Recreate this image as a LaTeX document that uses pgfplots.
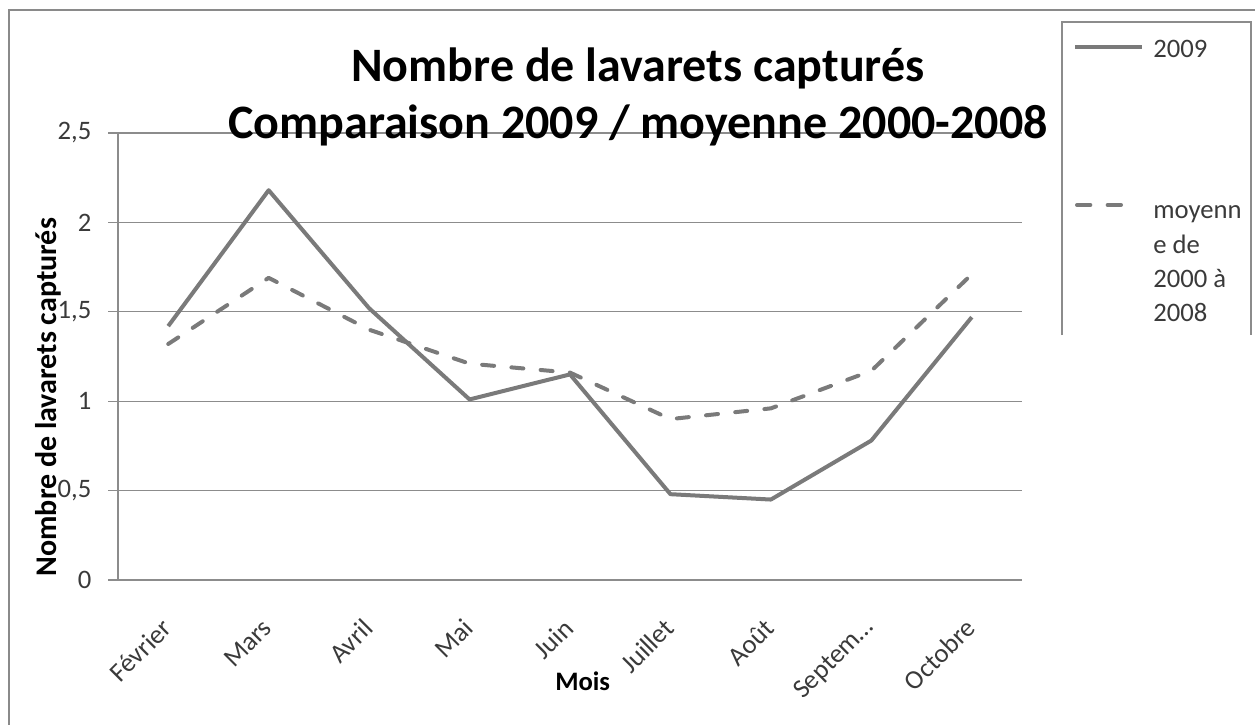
\documentclass[border=0pt]{standalone}
\usepackage{fontspec}
\setmainfont{Carlito}
\usepackage{pgfplots}
\pgfplotsset{compat=1.18}
\definecolor{linegray}{HTML}{7A7A7A}
\definecolor{gridgray}{HTML}{8C8C8C}
\definecolor{framegray}{HTML}{8A8A8A}
\definecolor{txtgray}{HTML}{3A3A3A}
\begin{document}
\begin{tikzpicture}
\useasboundingbox (0,0) rectangle (941.25pt,-543pt);
\draw[framegray, line width=2pt] (9*0.75pt,-730*0.75pt) -- (9*0.75pt,-10*0.75pt) -- (1260*0.75pt,-10*0.75pt);
\begin{axis}[
  at={(88.5pt,-435pt)}, anchor=south west,
  scale only axis, width=678pt, height=335.25pt,
  xmin=-0.5, xmax=8.5, ymin=0, ymax=2.5,
  axis lines=left,
  axis line style={gridgray, line width=1pt, -},
  ytick={0,0.5,1,1.5,2,2.5},
  /pgf/number format/use comma,
  /pgf/number format/assume math mode=true,
  yticklabel style={font=\fontsize{20}{24}\selectfont, text=txtgray, xshift=-9pt},
  tick align=outside, major tick length=7.5pt,
  y tick style={gridgray, line width=1pt},
  xtick={0,1,2,3,4,5,6,7,8},
  xticklabels={Février,Mars,Avril,Mai,Juin,Juillet,Août,Septem…,Octobre},
  x tick style={draw=none},
  xticklabel style={yshift=-22.8pt, xshift=1.5pt, rotate=45, anchor=east, font=\fontsize{20}{24}\selectfont, text=txtgray},
  ymajorgrids, grid style={gridgray, line width=1pt},
  xlabel={Mois},
  xlabel style={at={(axis description cs:0.514,-0.226)}, anchor=center, font=\bfseries\fontsize{20}{24}\selectfont},
  ylabel={Nombre de lavarets capturés},
  ylabel style={at={(axis description cs:-0.0774,0.409)}, anchor=center, font=\bfseries\fontsize{22.5}{26}\selectfont},
  clip=false,
]
\addplot[linegray, line width=3pt, line join=round] coordinates {
  (0,1.42) (1,2.18) (2,1.52) (3,1.01) (4,1.15) (5,0.48) (6,0.45) (7,0.78) (8,1.47)};
\addplot[linegray, line width=3pt, line cap=round, line join=round, dash pattern=on 9pt off 13pt] coordinates {
  (0,1.32) (1,1.69) (2,1.40) (3,1.21) (4,1.16) (5,0.90) (6,0.96) (7,1.17) (8,1.71)};
\end{axis}
\node[font=\bfseries\fontsize{36}{43}\selectfont, align=center] at (638*0.75pt,-97*0.75pt)
  {Nombre de lavarets capturés\\Comparaison 2009 / moyenne 2000-2008};
% legend
\draw[gridgray, line width=0.8pt] (1062*0.75pt,-335*0.75pt) -- (1062*0.75pt,-22*0.75pt) -- (1251*0.75pt,-22*0.75pt) -- (1251*0.75pt,-335*0.75pt);
\draw[linegray, line width=3pt] (1075*0.75pt,-47*0.75pt) -- (1142*0.75pt,-47*0.75pt);
\draw[linegray, line width=3pt, line cap=round, dash pattern=on 10pt off 13pt] (1077*0.75pt,-205*0.75pt) -- (1130*0.75pt,-205*0.75pt);
\begin{scope}[every node/.style={anchor=base west, inner sep=0pt, text=txtgray, font=\fontsize{20}{24}\selectfont}]
\node at (1153*0.75pt,-58*0.75pt) {2009};
\node at (1153*0.75pt,-218*0.75pt) {moyenn};
\node at (1153*0.75pt,-253*0.75pt) {e de};
\node at (1153*0.75pt,-287*0.75pt) {2000 à};
\node at (1153*0.75pt,-321*0.75pt) {2008};
\end{scope}
\end{tikzpicture}
\end{document}
